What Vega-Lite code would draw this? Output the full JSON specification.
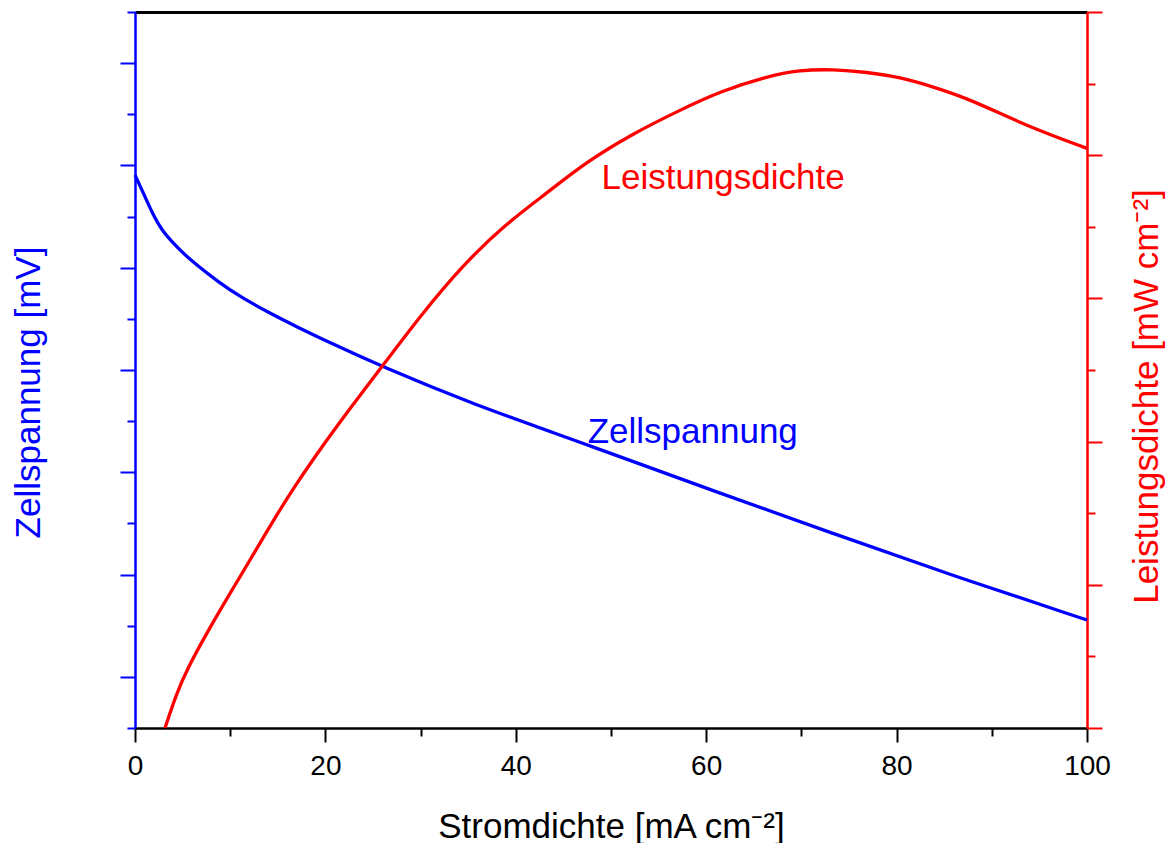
{
  "$schema": "https://vega.github.io/schema/vega-lite/v6.json",
  "width": 952,
  "height": 716,
  "autosize": {"type": "none"},
  "padding": {"left": 135, "top": 12, "right": 85, "bottom": 115},
  "background": "white",
  "config": {
    "view": {"stroke": null},
    "axis": {
      "grid": false,
      "labelFont": "Liberation Sans",
      "titleFont": "Liberation Sans",
      "titleFontWeight": "normal",
      "labelFontSize": 28,
      "titleFontSize": 35,
      "tickWidth": 2,
      "domainWidth": 2.5,
      "labelOverlap": false
    }
  },
  "datasets": {
    "zell": [
      {"i": 0, "v": 590.6},
      {"i": 1.05, "v": 569.4},
      {"i": 1.92, "v": 551.5},
      {"i": 2.8, "v": 536.9},
      {"i": 4.02, "v": 523.9},
      {"i": 5.78, "v": 507.5},
      {"i": 8.93, "v": 484.8},
      {"i": 11.03, "v": 471.7},
      {"i": 14.18, "v": 455.4},
      {"i": 16.98, "v": 442.3},
      {"i": 20.48, "v": 426.7},
      {"i": 25.97, "v": 403.2},
      {"i": 35.25, "v": 367.4},
      {"i": 47.62, "v": 326.7},
      {"i": 61.42, "v": 279.5},
      {"i": 73.31, "v": 240.3},
      {"i": 85.2, "v": 201.2},
      {"i": 100, "v": 155.6}
    ],
    "leistung": [
      {"i": 3.15, "p": 0},
      {"i": 4.38, "p": 0.97},
      {"i": 5.43, "p": 1.62},
      {"i": 7.53, "p": 2.65},
      {"i": 9.98, "p": 3.76},
      {"i": 12.08, "p": 4.69},
      {"i": 14.53, "p": 5.8},
      {"i": 16.98, "p": 6.84},
      {"i": 20.13, "p": 8.04},
      {"i": 22.58, "p": 8.93},
      {"i": 26.08, "p": 10.14},
      {"i": 29.94, "p": 11.5},
      {"i": 34.49, "p": 12.95},
      {"i": 39.04, "p": 14.1},
      {"i": 43.25, "p": 14.94},
      {"i": 47.45, "p": 15.82},
      {"i": 52.34, "p": 16.61},
      {"i": 57.25, "p": 17.26},
      {"i": 61.45, "p": 17.78},
      {"i": 66.36, "p": 18.2},
      {"i": 69.85, "p": 18.38},
      {"i": 73.35, "p": 18.4},
      {"i": 76.86, "p": 18.32},
      {"i": 80.36, "p": 18.18},
      {"i": 83.85, "p": 17.91},
      {"i": 87.36, "p": 17.59},
      {"i": 90.86, "p": 17.17},
      {"i": 94.36, "p": 16.75},
      {"i": 100, "p": 16.19}
    ],
    "annoV": [{"i": 47.55, "v": 328.3, "t": "Zellspannung"}],
    "annoP": [{"i": 49.0, "p": 15.06, "t": "Leistungsdichte"}]
  },
  "layer": [
    {
      "data": {"name": "zell"},
      "mark": {"type": "line", "color": "#0000ff", "strokeWidth": 3.3, "interpolate": "basis"},
      "encoding": {
        "x": {
          "field": "i", "type": "quantitative",
          "scale": {"domain": [0, 100], "nice": false},
          "axis": {
            "orient": "bottom", "values": [0, 20, 40, 60, 80, 100],
            "tickSize": 14, "tickColor": "black", "domainColor": "black",
            "labelColor": "black", "labelPadding": 10, "labelFlush": false,
            "title": "Stromdichte [mA cm⁻²]", "titleColor": "black", "titlePadding": 29
          }
        },
        "y": {
          "field": "v", "type": "quantitative",
          "scale": {"domain": [50, 750], "nice": false, "zero": false},
          "axis": {
            "orient": "left", "values": [100, 200, 300, 400, 500, 600, 700],
            "tickSize": 15, "tickColor": "#0000ff", "domainColor": "#0000ff",
            "labels": false, "title": "Zellspannung [mV]", "titleColor": "#0000ff",
            "titlePadding": 73, "titleY": 380
          }
        }
      }
    },
    {
      "data": {"name": "leistung"},
      "mark": {"type": "line", "color": "#ff0000", "strokeWidth": 3.3, "interpolate": "basis"},
      "encoding": {
        "x": {
          "field": "i", "type": "quantitative",
          "scale": {"domain": [0, 100], "nice": false},
          "axis": {
            "orient": "top", "ticks": false, "labels": false, "title": null,
            "domainColor": "black", "domainWidth": 3
          }
        },
        "y": {
          "field": "p", "type": "quantitative",
          "scale": {"domain": [0, 20], "nice": false},
          "axis": {
            "orient": "right", "values": [0, 4, 8, 12, 16, 20],
            "tickSize": 15, "tickColor": "#ff0000", "domainColor": "#ff0000",
            "labels": false, "title": "Leistungsdichte [mW cm⁻²]", "titleColor": "#ff0000",
            "titleAngle": 270, "titleBaseline": "top", "titlePadding": 26, "titleY": 384
          }
        }
      }
    },
    {
      "data": {"name": "annoV"},
      "mark": {"type": "text", "color": "#0000ff", "font": "Liberation Sans", "fontSize": 35, "align": "left", "baseline": "alphabetic"},
      "encoding": {
        "x": {
          "field": "i", "type": "quantitative",
          "scale": {"domain": [0, 100], "nice": false},
          "axis": {
            "orient": "bottom", "values": [10, 30, 50, 70, 90], "tickSize": 8,
            "tickColor": "black", "labels": false, "domain": false, "title": null
          }
        },
        "y": {
          "field": "v", "type": "quantitative",
          "scale": {"domain": [50, 750], "nice": false, "zero": false},
          "axis": {
            "orient": "left", "values": [50, 150, 250, 350, 450, 550, 650, 750], "tickSize": 8,
            "tickColor": "#0000ff", "labels": false, "domain": false, "title": null
          }
        },
        "text": {"field": "t"}
      }
    },
    {
      "data": {"name": "annoP"},
      "mark": {"type": "text", "color": "#ff0000", "font": "Liberation Sans", "fontSize": 35, "align": "left", "baseline": "alphabetic"},
      "encoding": {
        "x": {
          "field": "i", "type": "quantitative",
          "scale": {"domain": [0, 100], "nice": false},
          "axis": null
        },
        "y": {
          "field": "p", "type": "quantitative",
          "scale": {"domain": [0, 20], "nice": false},
          "axis": {
            "orient": "right", "values": [2, 6, 10, 14, 18], "tickSize": 8,
            "tickColor": "#ff0000", "labels": false, "domain": false, "title": null
          }
        },
        "text": {"field": "t"}
      }
    }
  ],
  "resolve": {
    "scale": {"y": "independent"},
    "axis": {"x": "independent", "y": "independent"}
  }
}
